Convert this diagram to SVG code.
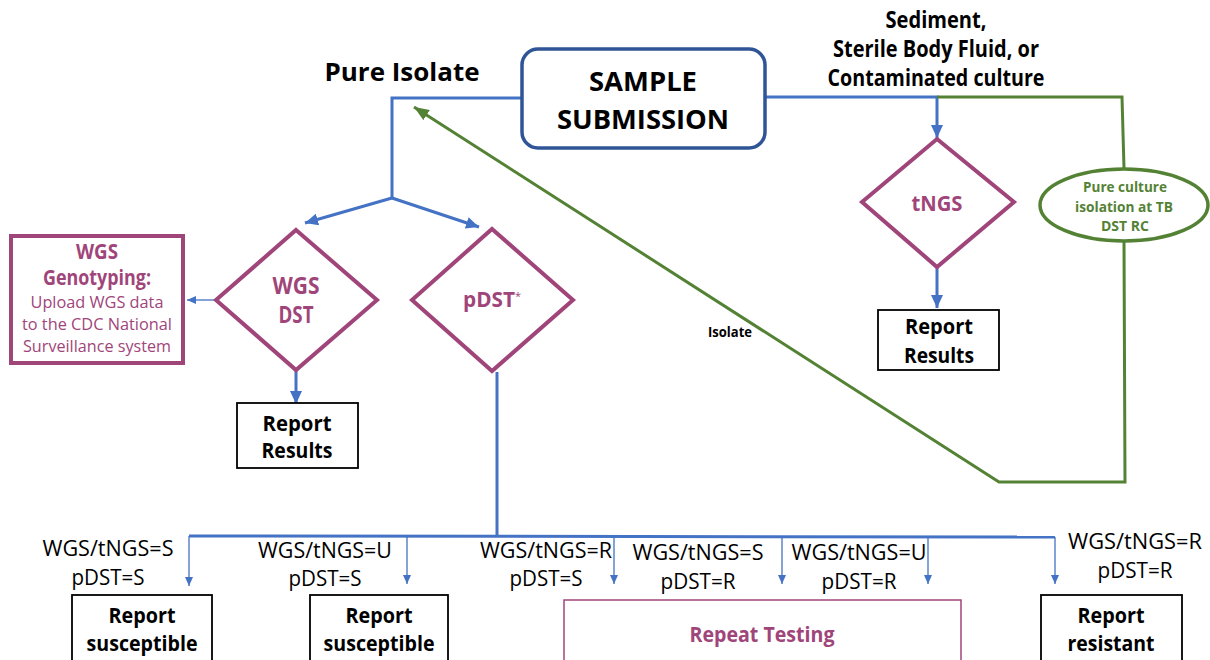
<svg xmlns="http://www.w3.org/2000/svg" width="1210" height="660" viewBox="0 0 1210 660">
<style>
text{font-family:"Open Sans","Noto Sans","Liberation Sans",sans-serif;text-anchor:middle}
.b{font-weight:bold}
.blk{fill:#000}
.pur{fill:#A0457A}
.grn{fill:#548235}
.lab{font-size:21.5px;fill:#000}
.rep{font-size:22px;font-weight:bold;fill:#000}
.blue{stroke:#4472C4;stroke-width:3;fill:none}
.thin{stroke:#4472C4;stroke-width:1.3;fill:none}
.green{stroke:#548235;stroke-width:3;fill:none}
.dia{stroke:#A0457A;stroke-width:4;fill:#fff}
.box{stroke:#000;stroke-width:1.8;fill:#fff}
</style>
<defs>
<marker id="ab" markerUnits="userSpaceOnUse" markerWidth="14" markerHeight="12" refX="13" refY="6" orient="auto"><path d="M0,0 L13,6 L0,12 Z" fill="#4472C4"/></marker>
<marker id="at" markerUnits="userSpaceOnUse" markerWidth="10" markerHeight="10" refX="9" refY="4" orient="auto"><path d="M0,0 L9,4 L0,8 Z" fill="#4472C4"/></marker>
<marker id="ag" markerUnits="userSpaceOnUse" markerWidth="16" markerHeight="12" refX="15" refY="6" orient="auto"><path d="M0,0 L15,6 L0,12 Z" fill="#548235"/></marker>
</defs>
<rect width="1210" height="660" fill="#fff"/>

<g id="connectors">
<polyline class="blue" points="522,98 392,98 392,198"/>
<line class="blue" x1="392" y1="198" x2="305" y2="223" marker-end="url(#ab)"/>
<line class="blue" x1="392" y1="198" x2="479" y2="227" marker-end="url(#ab)"/>
<polyline class="blue" points="765,97 937,97 937,138" marker-end="url(#ab)"/>
<polyline class="green" points="937,97 1122,97 1124,168"/>
<polyline class="green" points="1124,240 1125,482 999,482 414,107" marker-end="url(#ag)"/>
<line class="blue" x1="937" y1="268" x2="937" y2="308" marker-end="url(#ab)"/>
<line class="blue" x1="296" y1="371" x2="296" y2="404" marker-end="url(#ab)"/>
<line class="thin" x1="216" y1="300" x2="187" y2="300" marker-end="url(#at)"/>
<line class="blue" x1="497" y1="372" x2="497" y2="536"/>
<line class="blue" x1="189" y1="536" x2="1055" y2="537"/>
<line class="thin" x1="189" y1="536" x2="189" y2="586" marker-end="url(#at)"/>
<line class="thin" x1="407" y1="536" x2="407" y2="584" marker-end="url(#at)"/>
<line class="thin" x1="614" y1="536" x2="614" y2="584" marker-end="url(#at)"/>
<line class="thin" x1="782" y1="537" x2="782" y2="584" marker-end="url(#at)"/>
<line class="thin" x1="928" y1="537" x2="928" y2="584" marker-end="url(#at)"/>
<line class="thin" x1="1055" y1="537" x2="1055" y2="584" marker-end="url(#at)"/>
<text x="730" y="337" class="b blk" style="font-size:14px" textLength="44" lengthAdjust="spacingAndGlyphs">Isolate</text>
</g>

<g id="pure-isolate-label">
<text x="402" y="81" class="b blk" style="font-size:25px" textLength="155" lengthAdjust="spacingAndGlyphs">Pure Isolate</text>
</g>

<g id="sample-submission">
<rect x="522" y="49" width="243" height="99" rx="16" fill="#fff" stroke="#2F5597" stroke-width="3.5"/>
<text x="643" y="91" class="b blk" style="font-size:27.5px" textLength="108" lengthAdjust="spacingAndGlyphs">SAMPLE</text>
<text x="643" y="129" class="b blk" style="font-size:27.5px" textLength="172" lengthAdjust="spacingAndGlyphs">SUBMISSION</text>
</g>

<g id="sediment-label">
<text x="936" y="28" class="b blk" style="font-size:22.5px" textLength="101" lengthAdjust="spacingAndGlyphs">Sediment,</text>
<text x="936" y="57" class="b blk" style="font-size:22.5px" textLength="206" lengthAdjust="spacingAndGlyphs">Sterile Body Fluid, or</text>
<text x="936" y="86" class="b blk" style="font-size:22.5px" textLength="217" lengthAdjust="spacingAndGlyphs">Contaminated culture</text>
</g>

<g id="tngs">
<polygon class="dia" points="937,139 1014,202 937,267 862,202"/>
<text x="937" y="211" class="b pur" style="font-size:22px" textLength="51" lengthAdjust="spacingAndGlyphs">tNGS</text>
</g>

<g id="report-results-tngs">
<rect class="box" x="878" y="310" width="121" height="60"/>
<text x="939" y="334" class="rep" textLength="68" lengthAdjust="spacingAndGlyphs">Report</text>
<text x="939" y="363" class="rep" textLength="70" lengthAdjust="spacingAndGlyphs">Results</text>
</g>

<g id="pure-culture-isolation">
<ellipse cx="1124" cy="205" rx="84" ry="36" fill="#fff" stroke="#548235" stroke-width="3.5"/>
<text x="1125" y="192" class="b grn" style="font-size:14.5px" textLength="84" lengthAdjust="spacingAndGlyphs">Pure culture</text>
<text x="1124" y="212" class="b grn" style="font-size:14.5px" textLength="98" lengthAdjust="spacingAndGlyphs">isolation at TB</text>
<text x="1125" y="231" class="b grn" style="font-size:14.5px" textLength="48" lengthAdjust="spacingAndGlyphs">DST RC</text>
</g>

<g id="wgs-genotyping">
<rect x="11" y="236" width="172" height="127" fill="#fff" stroke="#A0457A" stroke-width="4"/>
<text x="97" y="259" class="b pur" style="font-size:20.5px" textLength="42" lengthAdjust="spacingAndGlyphs">WGS</text>
<text x="97" y="285" class="b pur" style="font-size:20.5px" textLength="108" lengthAdjust="spacingAndGlyphs">Genotyping:</text>
<text x="97" y="308" class="pur" style="font-size:16.5px" textLength="133" lengthAdjust="spacingAndGlyphs">Upload WGS data</text>
<text x="97" y="330" class="pur" style="font-size:16.5px" textLength="150" lengthAdjust="spacingAndGlyphs">to the CDC National</text>
<text x="97" y="352" class="pur" style="font-size:16.5px" textLength="148" lengthAdjust="spacingAndGlyphs">Surveillance system</text>
</g>

<g id="wgs-dst">
<polygon class="dia" points="296,230 377,300 296,370 216,300"/>
<text x="296" y="294" class="b pur" style="font-size:22.5px" textLength="47" lengthAdjust="spacingAndGlyphs">WGS</text>
<text x="296" y="323" class="b pur" style="font-size:22.5px" textLength="35" lengthAdjust="spacingAndGlyphs">DST</text>
</g>

<g id="report-results-wgs">
<rect class="box" x="237" y="403" width="121" height="65"/>
<text x="297" y="431" class="rep" textLength="69" lengthAdjust="spacingAndGlyphs">Report</text>
<text x="297" y="458" class="rep" textLength="71" lengthAdjust="spacingAndGlyphs">Results</text>
</g>

<g id="pdst">
<polygon class="dia" points="492,229 573,300 492,371 412,300"/>
<text x="489" y="307" class="b pur" style="font-size:21.5px" textLength="52" lengthAdjust="spacingAndGlyphs">pDST</text>
<text x="518" y="300" class="pur" style="font-size:11px">*</text>
</g>

<g id="case-labels">
<text x="108" y="556" class="lab" textLength="131" lengthAdjust="spacingAndGlyphs">WGS/tNGS=S</text>
<text x="108" y="585" class="lab" textLength="73" lengthAdjust="spacingAndGlyphs">pDST=S</text>
<text x="325" y="558" class="lab" textLength="134" lengthAdjust="spacingAndGlyphs">WGS/tNGS=U</text>
<text x="325" y="586" class="lab" textLength="73" lengthAdjust="spacingAndGlyphs">pDST=S</text>
<text x="546" y="558" class="lab" textLength="132" lengthAdjust="spacingAndGlyphs">WGS/tNGS=R</text>
<text x="546" y="586" class="lab" textLength="73" lengthAdjust="spacingAndGlyphs">pDST=S</text>
<text x="698" y="560" class="lab" textLength="131" lengthAdjust="spacingAndGlyphs">WGS/tNGS=S</text>
<text x="698" y="589" class="lab" textLength="75" lengthAdjust="spacingAndGlyphs">pDST=R</text>
<text x="859" y="560" class="lab" textLength="135" lengthAdjust="spacingAndGlyphs">WGS/tNGS=U</text>
<text x="859" y="589" class="lab" textLength="75" lengthAdjust="spacingAndGlyphs">pDST=R</text>
<text x="1135" y="549" class="lab" textLength="134" lengthAdjust="spacingAndGlyphs">WGS/tNGS=R</text>
<text x="1135" y="578" class="lab" textLength="75" lengthAdjust="spacingAndGlyphs">pDST=R</text>
</g>

<g id="report-susceptible-1">
<rect class="box" x="72" y="595" width="140" height="85"/>
<text x="142" y="623" class="rep" textLength="67" lengthAdjust="spacingAndGlyphs">Report</text>
<text x="142" y="651" class="rep" textLength="111" lengthAdjust="spacingAndGlyphs">susceptible</text>
</g>

<g id="report-susceptible-2">
<rect class="box" x="310" y="595" width="138" height="85"/>
<text x="379" y="623" class="rep" textLength="67" lengthAdjust="spacingAndGlyphs">Report</text>
<text x="379" y="651" class="rep" textLength="111" lengthAdjust="spacingAndGlyphs">susceptible</text>
</g>

<g id="repeat-testing">
<rect x="564" y="600" width="397" height="80" fill="#fff" stroke="#A0457A" stroke-width="1.5"/>
<text x="762" y="642" class="b pur" style="font-size:21.5px" textLength="145" lengthAdjust="spacingAndGlyphs">Repeat Testing</text>
</g>

<g id="report-resistant">
<rect class="box" x="1041" y="595" width="141" height="85"/>
<text x="1111" y="623" class="rep" textLength="67" lengthAdjust="spacingAndGlyphs">Report</text>
<text x="1111" y="651" class="rep" textLength="87" lengthAdjust="spacingAndGlyphs">resistant</text>
</g>
</svg>
